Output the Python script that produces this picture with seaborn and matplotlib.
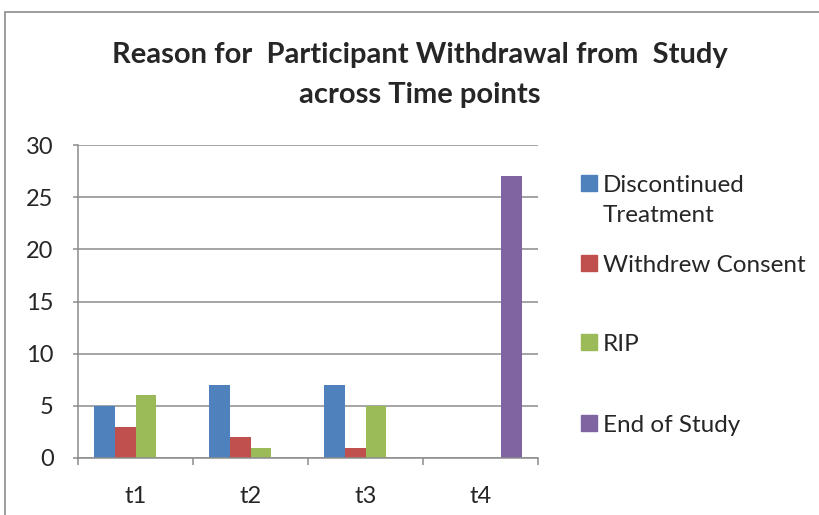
import pandas as pd
import matplotlib.pyplot as plt
import seaborn as sns
from matplotlib.patches import Rectangle

times = ['t1', 't2', 't3', 't4']
reasons = ['Discontinued\nTreatment', 'Withdrew Consent', 'RIP', 'End of Study']
discontinued = [5, 7, 7, 0]
withdrew = [3, 2, 1, 0]
rip = [6, 1, 5, 0]
end_of_study = [0, 0, 0, 27]
colors = ['#4F81BD', '#C0504D', '#9BBB59', '#8064A2']

rows = []
for reason, vals in zip(reasons, [discontinued, withdrew, rip, end_of_study]):
    for t, v in zip(times, vals):
        rows.append({'time': t, 'reason': reason, 'count': v})
df = pd.DataFrame(rows)

sns.set_style("white")
plt.rcParams['font.family'] = ['Lato', 'DejaVu Sans']

fig = plt.figure(figsize=(8.19, 5.15), dpi=100)
ax = fig.add_axes([78 / 819, 1 - 458 / 515, 460 / 819, 313 / 515])

sns.barplot(data=df, x='time', y='count', hue='reason', palette=colors,
            width=0.73, saturation=1, errorbar=None, legend=False,
            linewidth=0, ax=ax)

grid_col = '#8C8C8C'
ax.set_ylim(0, 30)
ax.set_xlim(-0.5, 3.5)
ax.set_yticks(range(0, 31, 5))
ax.yaxis.grid(True, color=grid_col, linewidth=1.1)
ax.set_axisbelow(True)
ax.set_xlabel('')
ax.set_ylabel('')
for s in ['top', 'right']:
    ax.spines[s].set_visible(False)
for s in ['left', 'bottom']:
    ax.spines[s].set_color(grid_col)
    ax.spines[s].set_linewidth(1.1)

ax.tick_params(axis='y', left=True, length=3.6, width=1.1, color=grid_col,
               pad=14, labelsize=17)
ax.tick_params(axis='x', bottom=False, pad=17, labelsize=17)
ax.set_xticks([-0.5, 0.5, 1.5, 2.5, 3.5], minor=True)
ax.tick_params(axis='x', which='minor', bottom=True, length=5, width=1.1,
               color=grid_col)

fig.text(420 / 819, 1 - 55 / 515, 'Reason for  Participant Withdrawal from  Study',
         ha='center', va='center', fontsize=21, fontweight='bold')
fig.text(420 / 819, 1 - 95 / 515, 'across Time points',
         ha='center', va='center', fontsize=21, fontweight='bold')

# legend
leg_y = [183, 263, 342, 423]
for label, col, y in zip(reasons, colors, leg_y):
    fig.patches.append(Rectangle((581 / 819, 1 - (y + 8) / 515), 16 / 819, 16 / 515,
                                 transform=fig.transFigure, color=col))
    fig.text(603 / 819, 1 - (y - 8) / 515, label, ha='left', va='top',
             fontsize=17.5, linespacing=1.55)

# outer chart frame
fig.patches.append(Rectangle((5 / 819, -0.1), 1.2, 1.1 - 12 / 515,
                             transform=fig.transFigure, fill=False,
                             edgecolor='#8C8C8C', linewidth=1.2))

fig.savefig('out.png', dpi=100)
